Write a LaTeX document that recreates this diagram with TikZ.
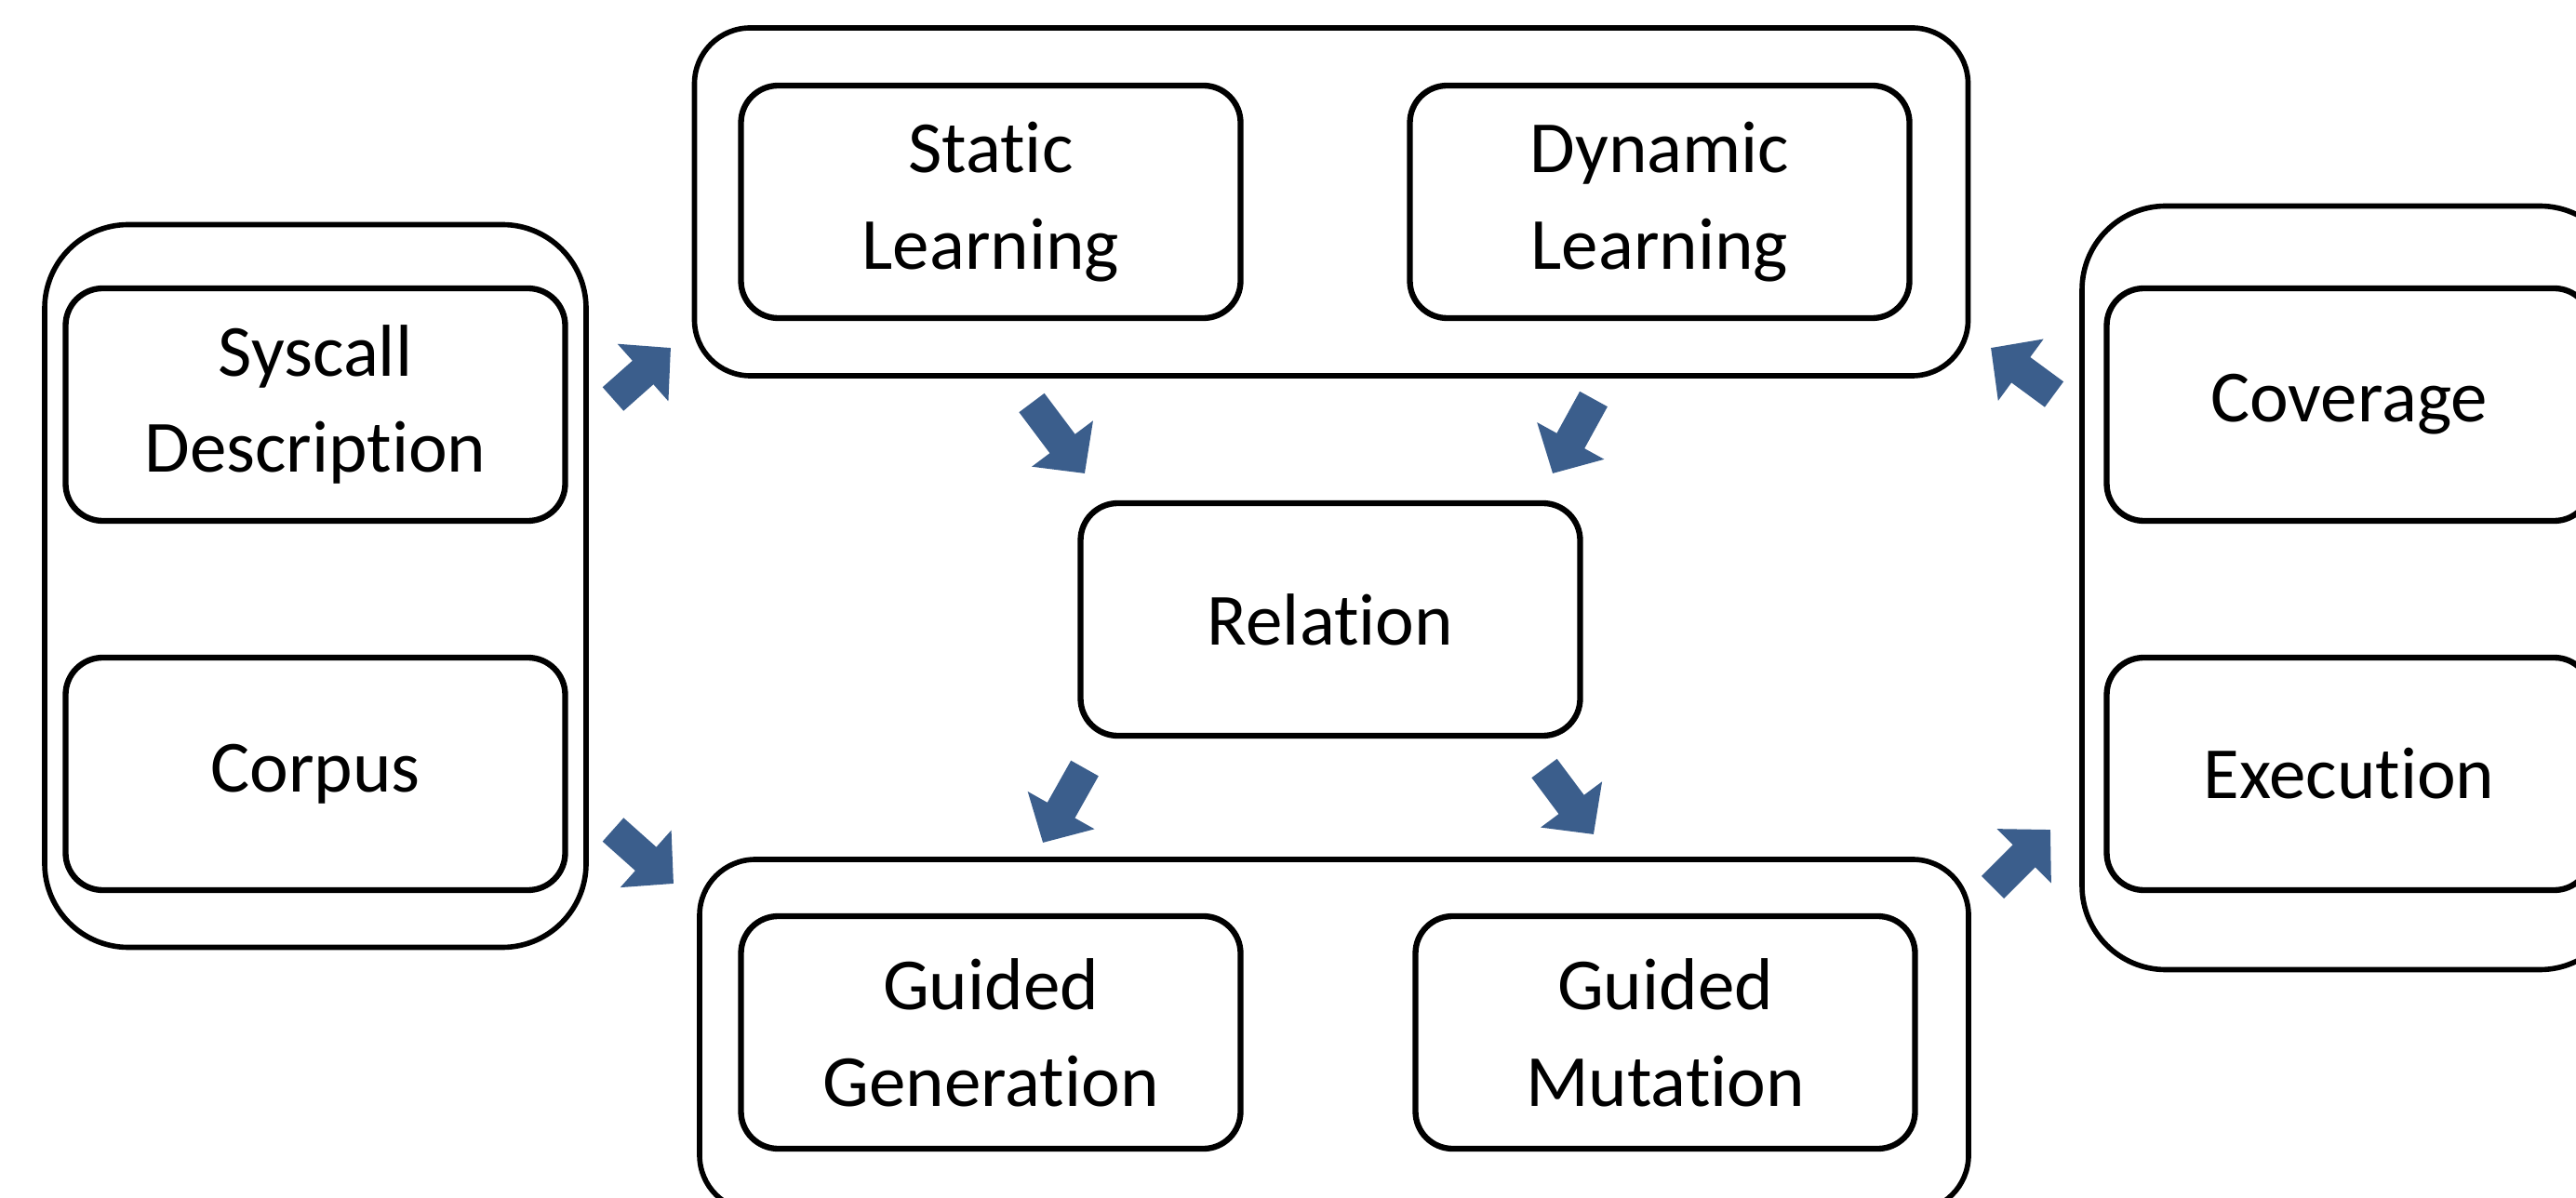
\documentclass[tikz,border=0pt]{standalone}
\usepackage{fontspec}
\setmainfont[Ligatures={NoCommon}]{Carlito}
\usetikzlibrary{arrows.meta}
\definecolor{flowblue}{HTML}{3B5E8C}
\tikzset{
  group/.style={draw, line width=1.6pt, rounded corners=0.6cm, inner sep=0pt},
  part/.style={draw, line width=1.8pt, rounded corners=0.4cm, minimum width=5.37cm,
    minimum height=2.5cm, align=center, font=\fontsize{22.5}{29.5}\selectfont},
  flow/.style={flowblue, line width=0.34cm, -{Triangle[length=0.4cm, width=0.8cm]}}
}

\begin{document}
\begin{tikzpicture}
	\useasboundingbox (0,0) rectangle (27.69,12.87);
	% outer groups
	\node[group, minimum width=13.69cm, minimum height=3.74cm] (learn) at (14.31,10.70) {};
	\node[group, minimum width=13.64cm, minimum height=3.78cm] (fuzz) at (14.34,1.74) {};
	\node[group, rounded corners=0.9cm, minimum width=5.82cm, minimum height=7.77cm] (input) at (3.39,6.57) {};
	\node[group, rounded corners=0.9cm, minimum width=5.82cm, minimum height=8.21cm] (kernel) at (25.29,6.55) {};
	% inner boxes
	\node[part] (static) at (10.65,10.70) {Static\\Learning};
	\node[part] (dynamic) at (17.84,10.70) {Dynamic\\Learning};
	\node[part] (syscall) at (3.39,8.52) {Syscall\\Description};
	\node[part] (corpus) at (3.39,4.55) {Corpus};
	\node[part] (relation) at (14.30,6.21) {Relation};
	\node[part] (gen) at (10.65,1.77) {Guided\\Generation};
	\node[part] (mut) at (17.90,1.77) {Guided\\Mutation};
	\node[part, minimum width=5.21cm] (coverage) at (25.25,8.52) {Coverage};
	\node[part, minimum width=5.21cm] (exec) at (25.25,4.55) {Execution};
	% arrow ends
	\coordinate (in1) at (6.59,8.58);   \coordinate (in1e) at (7.21,9.13);
	\coordinate (in2) at (6.59,3.95);   \coordinate (in2e) at (7.24,3.37);
	\coordinate (st1) at (11.09,8.54);  \coordinate (st1e) at (11.66,7.78);
	\coordinate (dy1) at (17.13,8.58);  \coordinate (dy1e) at (16.69,7.78);
	\coordinate (re1) at (11.66,4.61);  \coordinate (re1e) at (11.21,3.81);
	\coordinate (re2) at (16.60,4.61);  \coordinate (re2e) at (17.13,3.90);
	\coordinate (fz1) at (21.42,3.33);  \coordinate (fz1e) at (22.04,3.95);
	\coordinate (kn1) at (22.08,8.63);  \coordinate (kn1e) at (21.40,9.13);
	\draw[flow] (in1) -- (in1e);
	\draw[flow] (in2) -- (in2e);
	\draw[flow] (st1) -- (st1e);
	\draw[flow] (dy1) -- (dy1e);
	\draw[flow] (re1) -- (re1e);
	\draw[flow] (re2) -- (re2e);
	\draw[flow] (fz1) -- (fz1e);
	\draw[flow] (kn1) -- (kn1e);
\end{tikzpicture}
\end{document}
